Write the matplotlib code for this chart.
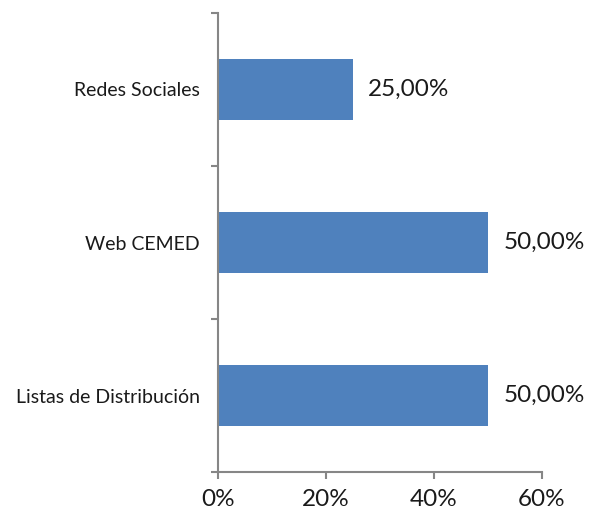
import matplotlib.pyplot as plt
from matplotlib.ticker import FixedLocator

categories = ["Redes Sociales", "Web CEMED", "Listas de Distribución"]
values = [25.0, 50.0, 50.0]
xticks = [0, 20, 40, 60]
xtick_labels = ["0%", "20%", "40%", "60%"]

plt.rcParams['font.family'] = ['Lato', 'DejaVu Sans']
axis_col = "#868686"

fig = plt.figure(figsize=(6, 5.28), dpi=100)
ax = fig.add_axes([0.3633, 0.106, 0.54, 0.8694])

pos = list(range(len(categories)))
ax.barh(pos, values, height=0.4, color="#4F81BD")

for p, v in zip(pos, values):
    ax.annotate(f"{v:.2f}%".replace(".", ","), (v, p), xytext=(11, 0),
                textcoords="offset points", va="center", ha="left",
                fontsize=17.5, color="#1a1a1a")

ax.set_xlim(0, 60)
ax.set_ylim(len(categories) - 0.5, -0.5)
ax.set_xticks(xticks)
ax.set_xticklabels(xtick_labels, fontsize=17.5, color="#1a1a1a")
ax.set_yticks(pos)
ax.set_yticklabels(categories, fontsize=14, color="#1a1a1a")
ax.yaxis.set_minor_locator(FixedLocator([-0.5, 0.5, 1.5, 2.5]))
ax.tick_params(axis="y", which="major", length=0, pad=13)
ax.tick_params(axis="y", which="minor", length=5, width=1.5, color=axis_col)
ax.tick_params(axis="x", length=5, width=1.5, color=axis_col, pad=7)

for s in ["top", "right"]:
    ax.spines[s].set_visible(False)
for s in ["left", "bottom"]:
    ax.spines[s].set_color(axis_col)
    ax.spines[s].set_linewidth(1.5)

fig.savefig("out.png", dpi=100)
